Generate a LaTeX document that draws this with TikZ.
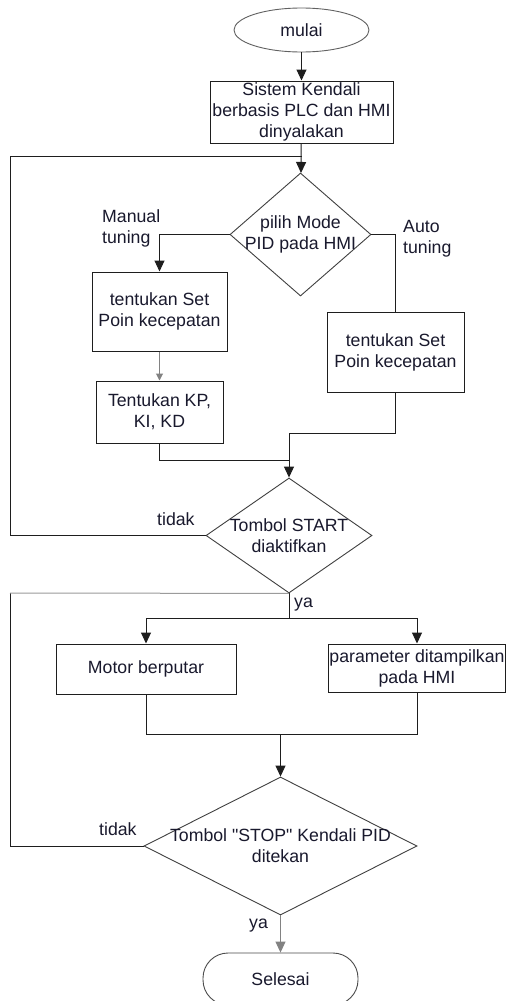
\documentclass[tikz,border=0pt]{standalone}
\usepackage{fontspec}
\setmainfont{Liberation Sans}
\newfontfamily\lsans{Liberation Sans}
\usetikzlibrary{shapes.geometric,arrows.meta}
\definecolor{ink}{RGB}{25,25,45}
\definecolor{edge}{RGB}{30,30,30}
\definecolor{lightedge}{RGB}{130,130,130}
\tikzset{
  txt/.style={font=\lsans\fontsize{17.7}{21}\selectfont, text=ink},
  box/.style={draw=edge, line width=1pt, rectangle, inner sep=0pt, align=center, txt},
  dec/.style={draw=edge!85, line width=0.9pt, diamond, inner sep=0pt},
  lbl/.style={txt, inner sep=0pt, align=left},
  conn/.style={draw=edge, line width=1pt},
  arr/.style={conn, -{Triangle[length=11pt,width=10pt]}},
  arrs/.style={conn, -{Triangle[length=7pt,width=7pt]}},
}
\begin{document}
\begin{tikzpicture}[x=1pt,y=-1pt]
\useasboundingbox (0,0) rectangle (506,1001);
\fill[white] (0,0) rectangle (506,1001);

% nodes
\node[draw=edge!70, line width=0.9pt, ellipse, minimum width=135pt, minimum height=44pt, inner sep=0pt, txt] (mulai) at (301.5,30) {mulai};
\node[box, minimum width=183pt, minimum height=62pt] (sys) at (301.5,112) {Sistem Kendali\\berbasis PLC dan HMI\\dinyalakan};
\node[dec, minimum width=141pt, minimum height=123pt,
      label={[txt, align=center]center:{pilih Mode\\PID pada HMI}}] (d1) at (300.5,234.5) {};
\node[box, minimum width=135pt, minimum height=79pt] (setman) at (159.5,311.5) {tentukan Set\\Poin kecepatan};
\node[box, minimum width=127pt, minimum height=62pt] (kpid) at (159.5,412) {Tentukan KP,\\KI, KD};
\node[box, minimum width=137pt, minimum height=80pt] (setauto) at (395.5,352) {tentukan Set\\Poin kecepatan};
\node[dec, minimum width=166pt, minimum height=115pt,
      label={[txt, align=center]center:{Tombol START\\diaktifkan}}] (d2) at (289,535.5) {};
\node[box, minimum width=180pt, minimum height=50pt] (motor) at (146,669) {Motor berputar};
\node[box, minimum width=177pt, minimum height=48pt] (param) at (417,668) {parameter ditampilkan\\pada HMI};
\node[dec, minimum width=273pt, minimum height=138pt,
      label={[txt, align=center]center:{Tombol "STOP" Kendali PID\\ditekan}}] (d3) at (280.5,846) {};
\node[draw=edge!80, line width=0.9pt, rectangle, rounded corners=25pt, minimum width=155pt, minimum height=52pt, inner sep=0pt, txt] (sel) at (280.5,979) {Selesai};

% labels
\node[lbl, anchor=west] (lman) at (102,228) {Manual\\tuning};
\node[lbl, anchor=west] (lauto) at (403,239) {Auto\\tuning};
\node[lbl, anchor=base west] (ltid1) at (157,525) {tidak};
\node[lbl, anchor=base west] (ltid2) at (99,835) {tidak};
\node[lbl, anchor=base west] (lya1) at (294,607) {ya};
\node[lbl, anchor=base west] (lya2) at (249,928) {ya};

% junction coordinates
\coordinate (j1) at (301.5,156);
\coordinate (lx1) at (10,535.5);
\coordinate (j2) at (289,460);
\coordinate (j3) at (289,433);
\coordinate (j4) at (289,618);
\coordinate (j5) at (280.5,734);
\coordinate (lx2) at (10,846);
\coordinate (lx2t) at (10,593);

% connectors
\draw[arr] (mulai) -- (sys);
\draw[arr] (sys) -- (d1);
\draw[conn] (d2.west) -- (lx1) |- (j1);
\draw[arr] (d1.west) -| (setman.north);
\draw[conn] (d1.east) -| (setauto.north);
\draw[arrs, draw=lightedge] (setman) -- (kpid);
\draw[conn] (kpid.south) |- (j2);
\draw[arr] (setauto.south) |- (j3) -- (d2.north);
\draw[conn] (d2.south) -- (j4);
\draw[arr] (j4) -| (motor.north);
\draw[arr] (j4) -| (param.north);
\draw[conn] (motor.south) |- (j5);
\draw[conn] (param.south) |- (j5);
\draw[arr] (j5) -- (d3.north);
\draw[conn] (d3.west) -- (lx2) -- (lx2t);
\draw[conn, draw=lightedge!80] (lx2t) -- (d2.south);
\draw[arr, draw=lightedge] (d3.south) -- (sel.north);
\end{tikzpicture}
\end{document}
